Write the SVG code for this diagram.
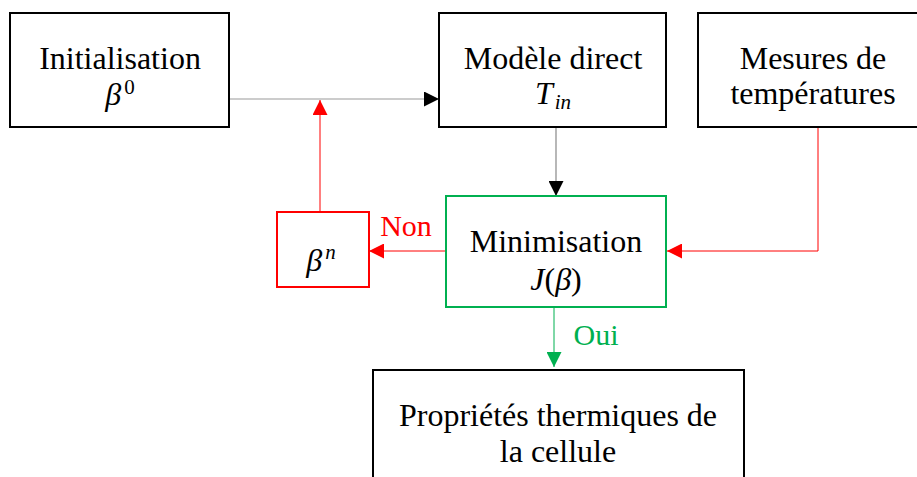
<svg xmlns="http://www.w3.org/2000/svg" width="917" height="477" viewBox="0 0 917 477">
<style>
.box{fill:#fff;stroke:#000;stroke-width:2}
.t{font-family:"Liberation Serif","Times New Roman",serif;font-size:32px;fill:#000;text-anchor:middle}
.m{font-family:"Liberation Serif","Times New Roman",serif;font-style:italic;font-size:32px;fill:#000;text-anchor:middle}
.sup{font-size:21px}
.up{font-style:normal}
</style>
<defs>
<marker id="ak" viewBox="0 0 10 10" refX="10" refY="5" markerWidth="15" markerHeight="15" markerUnits="userSpaceOnUse" orient="auto"><path d="M0,0L10,5L0,10z" fill="#000"/></marker>
<marker id="ar" viewBox="0 0 10 10" refX="10" refY="5" markerWidth="15" markerHeight="15" markerUnits="userSpaceOnUse" orient="auto"><path d="M0,0L10,5L0,10z" fill="#f00"/></marker>
<marker id="ag" viewBox="0 0 10 10" refX="10" refY="5" markerWidth="15" markerHeight="15" markerUnits="userSpaceOnUse" orient="auto"><path d="M0,0L10,5L0,10z" fill="#00b050"/></marker>
</defs>
<g id="connectors" fill="none">
<path d="M229,99H439" stroke="#999" stroke-width="1.2" marker-end="url(#ak)"/>
<path d="M556,127V196" stroke="#888" stroke-width="1.2" marker-end="url(#ak)"/>
<path d="M320,212V100" stroke="#f00" stroke-width="1" marker-end="url(#ar)"/>
<path d="M446,251H369" stroke="#f00" stroke-width="1" marker-end="url(#ar)"/>
<path d="M818,127V251H667" stroke="#f00" stroke-width="1" marker-end="url(#ar)"/>
<path d="M554,308V367" stroke="#00b050" stroke-width="1" marker-end="url(#ag)"/>
<text x="406" y="236" font-family="Liberation Serif,serif" font-size="30" fill="#f00" text-anchor="middle">Non</text>
<text x="596" y="345" font-family="Liberation Serif,serif" font-size="30" fill="#00b050" text-anchor="middle">Oui</text>
</g>
<g id="init">
<rect class="box" x="10" y="13" width="219" height="114"/>
<text class="t" x="120" y="69">Initialisation</text>
<text class="m" x="120" y="105">β<tspan class="sup up" dx="3" dy="-11">0</tspan></text>
</g>
<g id="modele">
<rect class="box" x="439" y="13" width="227" height="114"/>
<text class="t" x="553" y="69">Modèle direct</text>
<text class="m" x="553" y="104">T<tspan class="sup" dx="2" dy="5">in</tspan></text>
</g>
<g id="mesures">
<rect class="box" x="698" y="13" width="240" height="114"/>
<text class="t" x="813" y="69">Mesures de</text>
<text class="t" x="813" y="104">températures</text>
</g>
<g id="minimisation">
<rect x="446" y="196" width="220" height="111" fill="#fff" stroke="#00b050" stroke-width="2"/>
<text class="t" x="556" y="252">Minimisation</text>
<text class="m" x="556" y="290">J<tspan class="up">(</tspan>β<tspan class="up">)</tspan></text>
</g>
<g id="betan">
<rect x="277" y="212" width="92" height="75" fill="#fff" stroke="#f00" stroke-width="2"/>
<text class="m" x="321" y="271">β<tspan class="sup" dx="3" dy="-12">n</tspan></text>
</g>
<g id="proprietes">
<rect class="box" x="373" y="370" width="371" height="120"/>
<text class="t" x="558" y="426">Propriétés thermiques de</text>
<text class="t" x="558" y="462">la cellule</text>
</g>
</svg>
